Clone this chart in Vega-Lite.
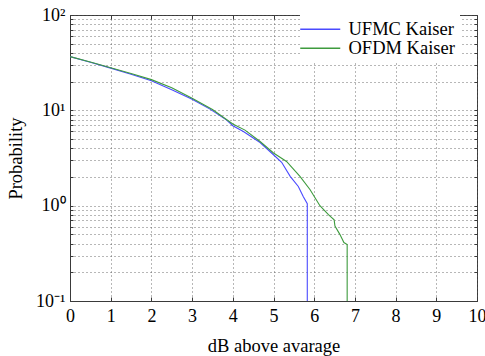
{
  "$schema": "https://vega.github.io/schema/vega-lite/v6.json",
  "autosize": {"type": "none"},
  "padding": {"left": 70, "top": 15, "right": 8, "bottom": 55},
  "width": 407,
  "height": 286,
  "background": "white",
  "config": {
    "font": "Liberation Serif",
    "view": {"stroke": "#3a3a3a", "strokeWidth": 1},
    "axis": {
      "labelFont": "Liberation Serif",
      "titleFont": "Liberation Serif",
      "labelFontSize": 18,
      "titleFontSize": 18.5,
      "titleFontWeight": "normal",
      "labelColor": "black",
      "titleColor": "black",
      "domainColor": "#3a3a3a",
      "tickColor": "#3a3a3a",
      "gridColor": "#555555",
      "gridDash": [1, 3],
      "gridWidth": 1,
      "gridOpacity": 0.85
    },
    "legend": {"labelFont": "Liberation Serif"}
  },
  "data": {
    "values": [
      {"s": "UFMC Kaiser", "x": 0, "y": 36.6},
      {"s": "UFMC Kaiser", "x": 0.5, "y": 32.0},
      {"s": "UFMC Kaiser", "x": 1, "y": 27.7},
      {"s": "UFMC Kaiser", "x": 1.5, "y": 23.9},
      {"s": "UFMC Kaiser", "x": 2, "y": 20.4},
      {"s": "UFMC Kaiser", "x": 2.5, "y": 16.4},
      {"s": "UFMC Kaiser", "x": 3, "y": 13.1},
      {"s": "UFMC Kaiser", "x": 3.44, "y": 10.3},
      {"s": "UFMC Kaiser", "x": 3.85, "y": 7.9},
      {"s": "UFMC Kaiser", "x": 4.0, "y": 6.9},
      {"s": "UFMC Kaiser", "x": 4.26, "y": 6.0},
      {"s": "UFMC Kaiser", "x": 4.67, "y": 4.6},
      {"s": "UFMC Kaiser", "x": 5.0, "y": 3.42},
      {"s": "UFMC Kaiser", "x": 5.2, "y": 2.85},
      {"s": "UFMC Kaiser", "x": 5.41, "y": 2.03},
      {"s": "UFMC Kaiser", "x": 5.61, "y": 1.59},
      {"s": "UFMC Kaiser", "x": 5.73, "y": 1.25},
      {"s": "UFMC Kaiser", "x": 5.83, "y": 1.05},
      {"s": "UFMC Kaiser", "x": 5.83, "y": 0.1},
      {"s": "OFDM Kaiser", "x": 0, "y": 36.6},
      {"s": "OFDM Kaiser", "x": 0.5, "y": 32.2},
      {"s": "OFDM Kaiser", "x": 1, "y": 28.0},
      {"s": "OFDM Kaiser", "x": 1.5, "y": 24.3},
      {"s": "OFDM Kaiser", "x": 2, "y": 21.0},
      {"s": "OFDM Kaiser", "x": 2.5, "y": 17.3},
      {"s": "OFDM Kaiser", "x": 3, "y": 13.4},
      {"s": "OFDM Kaiser", "x": 3.5, "y": 10.2},
      {"s": "OFDM Kaiser", "x": 4, "y": 7.2},
      {"s": "OFDM Kaiser", "x": 4.3, "y": 6.2},
      {"s": "OFDM Kaiser", "x": 4.67, "y": 4.71},
      {"s": "OFDM Kaiser", "x": 5.0, "y": 3.57},
      {"s": "OFDM Kaiser", "x": 5.32, "y": 2.91},
      {"s": "OFDM Kaiser", "x": 5.65, "y": 2.03},
      {"s": "OFDM Kaiser", "x": 5.9, "y": 1.47},
      {"s": "OFDM Kaiser", "x": 6.14, "y": 1.0},
      {"s": "OFDM Kaiser", "x": 6.35, "y": 0.805},
      {"s": "OFDM Kaiser", "x": 6.49, "y": 0.71},
      {"s": "OFDM Kaiser", "x": 6.51, "y": 0.61},
      {"s": "OFDM Kaiser", "x": 6.63, "y": 0.5},
      {"s": "OFDM Kaiser", "x": 6.73, "y": 0.41},
      {"s": "OFDM Kaiser", "x": 6.81, "y": 0.39},
      {"s": "OFDM Kaiser", "x": 6.81, "y": 0.1}
    ]
  },
  "layer": [
    {
      "mark": {"type": "point", "opacity": 0},
      "encoding": {
        "x": {
          "field": "x", "type": "quantitative",
          "scale": {"domain": [0, 10], "nice": false, "zero": false},
          "axis": {
            "orient": "top", "title": null, "labels": false, "grid": false, "domain": false,
            "values": [0, 1, 2, 3, 4, 5, 6, 7, 8, 9, 10], "tickSize": -4
          }
        },
        "y": {
          "field": "y", "type": "quantitative",
          "scale": {"type": "log", "domain": [0.1, 100], "nice": false},
          "axis": {
            "orient": "right", "title": null, "labels": false, "grid": false, "domain": false,
            "values": [0.1, 0.2, 0.3, 0.4, 0.5, 0.6, 0.7, 0.8, 0.9, 1, 2, 3, 4, 5, 6, 7, 8, 9, 10, 20, 30, 40, 50, 60, 70, 80, 90, 100],
            "tickSize": -3
          }
        }
      }
    },
    {
      "mark": {"type": "line", "strokeWidth": 1.1, "clip": true},
      "encoding": {
        "x": {
          "field": "x", "type": "quantitative",
          "scale": {"domain": [0, 10], "nice": false, "zero": false},
          "axis": {
            "title": "dB above avarage",
            "values": [0, 1, 2, 3, 4, 5, 6, 7, 8, 9, 10],
            "grid": true,
            "tickSize": -4,
            "labelPadding": 10,
            "labelFlush": false,
            "titlePadding": 11
          }
        },
        "y": {
          "field": "y", "type": "quantitative",
          "scale": {"type": "log", "domain": [0.1, 100], "nice": false},
          "axis": {
            "title": "Probability",
            "values": [0.1, 0.2, 0.3, 0.4, 0.5, 0.6, 0.7, 0.8, 0.9, 1, 2, 3, 4, 5, 6, 7, 8, 9, 10, 20, 30, 40, 50, 60, 70, 80, 90, 100],
            "labelExpr": "datum.value == 100 ? '10²' : datum.value == 10 ? '10¹' : datum.value == 1 ? '10⁰' : (datum.value > 0.09 && datum.value < 0.11) ? '10⁻¹' : ''",
            "grid": true,
            "tickSize": -3,
            "labelPadding": 8,
            "labelFlush": false,
            "titlePadding": 10
          }
        },
        "color": {
          "field": "s", "type": "nominal",
          "scale": {"domain": ["UFMC Kaiser", "OFDM Kaiser"], "range": ["#4a4aff", "#3e9b3e"]},
          "legend": {
            "title": null,
            "orient": "none",
            "legendX": 230,
            "legendY": 0,
            "fillColor": "white",
            "symbolType": "M-4,0H4",
            "symbolSize": 100,
            "symbolOffset": 6,
            "symbolStrokeWidth": 1.5,
            "labelFont": "Liberation Serif",
            "labelFontSize": 18.5,
            "labelColor": "black",
            "rowPadding": 0,
            "padding": 5,
            "labelOffset": 19
          }
        },
        "order": {"field": "y", "sort": "descending"}
      }
    }
  ],
  "resolve": {"axis": {"x": "independent", "y": "independent"}}
}
